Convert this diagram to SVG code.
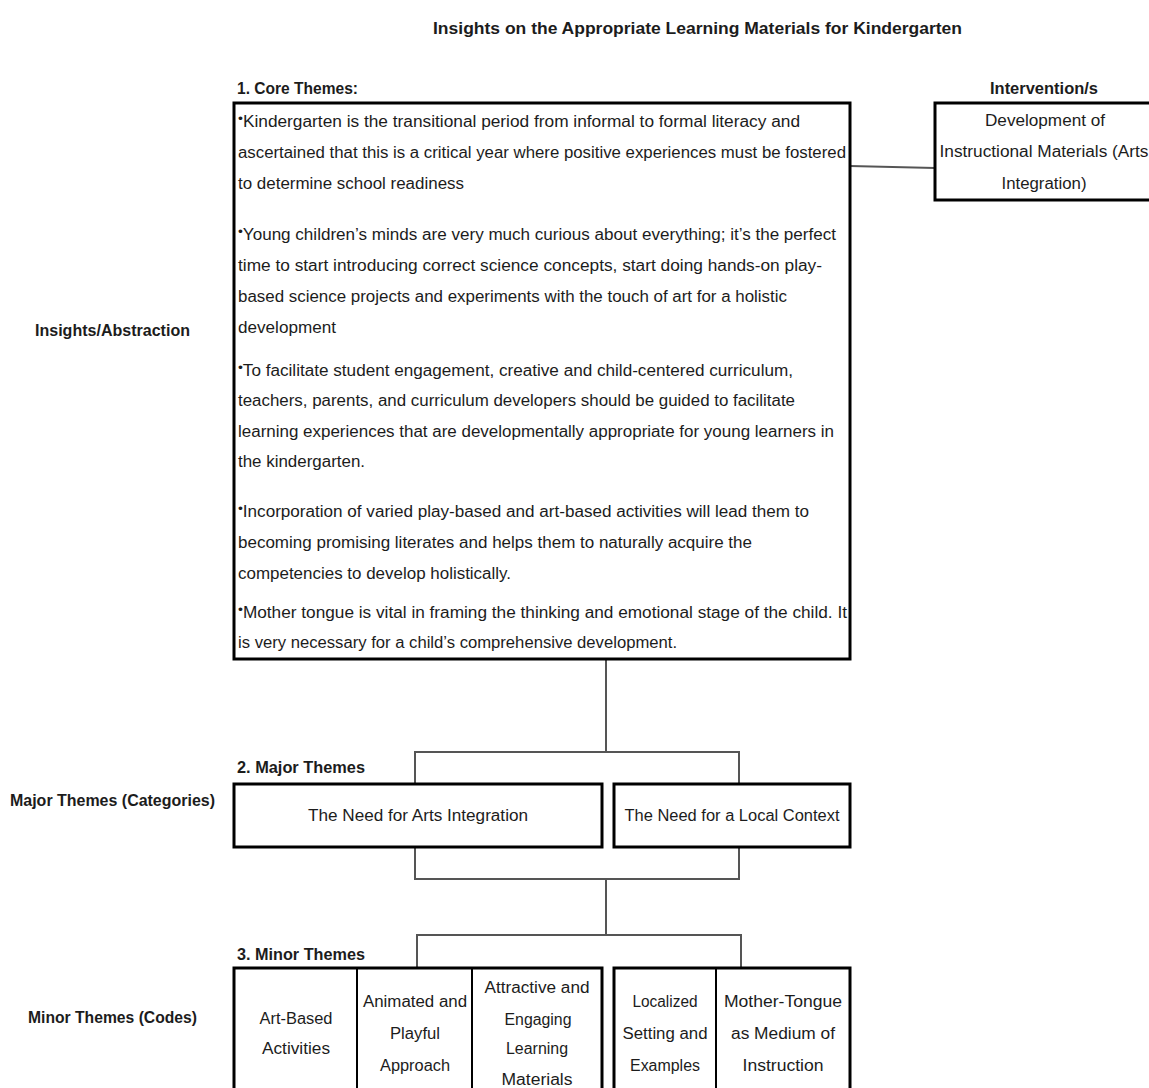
<svg xmlns="http://www.w3.org/2000/svg" width="1149" height="1088" viewBox="0 0 1149 1088">
<style>
text{font-family:"Liberation Sans Narrow","Liberation Sans",Arial,sans-serif;fill:#1c1c1c;font-size:16px}
.b{font-weight:bold}
.t{font-size:17px;font-weight:bold}
.c{text-anchor:middle}
.box{fill:#fff;stroke:#000;stroke-width:3}
.div{stroke:#000;stroke-width:2}
.con{fill:none;stroke:#555;stroke-width:2}
.bul{font-size:13px}
</style>
<rect width="1149" height="1088" fill="#fff"/>
<text class="t" x="433" y="34" textLength="529" lengthAdjust="spacingAndGlyphs">Insights on the Appropriate Learning Materials for Kindergarten</text>
<g id="labels">
<text class="b" x="35" y="336" textLength="155" lengthAdjust="spacingAndGlyphs">Insights/Abstraction</text>
<text class="b" x="10" y="806" textLength="205" lengthAdjust="spacingAndGlyphs">Major Themes (Categories)</text>
<text class="b" x="28" y="1023" textLength="169" lengthAdjust="spacingAndGlyphs">Minor Themes (Codes)</text>
<text class="b" x="237" y="94" textLength="121" lengthAdjust="spacingAndGlyphs">1. Core Themes:</text>
<text class="b c" x="1044" y="94" textLength="108" lengthAdjust="spacingAndGlyphs">Intervention/s</text>
<text class="b" x="237" y="773" textLength="128" lengthAdjust="spacingAndGlyphs">2. Major Themes</text>
<text class="b" x="237" y="960" textLength="128" lengthAdjust="spacingAndGlyphs">3. Minor Themes</text>
</g>
<g id="connectors">
<line class="con" x1="850" y1="166" x2="935" y2="168"/>
<path class="con" d="M606 659 V752 M415 784 V752 H739 V784"/>
<path class="con" d="M415 847 V879 H739 V847 M606 879 V935 M417 968 V935 H741 V968"/>
</g>
<g id="core">
<rect class="box" x="234" y="103" width="616" height="556"/>
<text x="238" y="127" textLength="562" lengthAdjust="spacingAndGlyphs"><tspan class="bul" dy="-4">•</tspan><tspan dy="4">Kindergarten is the transitional period from informal to formal literacy and</tspan></text>
<text x="238" y="158" textLength="608" lengthAdjust="spacingAndGlyphs">ascertained that this is a critical year where positive experiences must be fostered</text>
<text x="238" y="189" textLength="226" lengthAdjust="spacingAndGlyphs">to determine school readiness</text>
<text x="238" y="240" textLength="598" lengthAdjust="spacingAndGlyphs"><tspan class="bul" dy="-4">•</tspan><tspan dy="4">Young children’s minds are very much curious about everything; it’s the perfect</tspan></text>
<text x="238" y="271" textLength="584" lengthAdjust="spacingAndGlyphs">time to start introducing correct science concepts, start doing hands-on play-</text>
<text x="238" y="302" textLength="549" lengthAdjust="spacingAndGlyphs">based science projects and experiments with the touch of art for a holistic</text>
<text x="238" y="333" textLength="98" lengthAdjust="spacingAndGlyphs">development</text>
<text x="238" y="376" textLength="555" lengthAdjust="spacingAndGlyphs"><tspan class="bul" dy="-4">•</tspan><tspan dy="4">To facilitate student engagement, creative and child-centered curriculum,</tspan></text>
<text x="238" y="406" textLength="557" lengthAdjust="spacingAndGlyphs">teachers, parents, and curriculum developers should be guided to facilitate</text>
<text x="238" y="437" textLength="596" lengthAdjust="spacingAndGlyphs">learning experiences that are developmentally appropriate for young learners in</text>
<text x="238" y="467" textLength="127" lengthAdjust="spacingAndGlyphs">the kindergarten.</text>
<text x="238" y="517" textLength="571" lengthAdjust="spacingAndGlyphs"><tspan class="bul" dy="-4">•</tspan><tspan dy="4">Incorporation of varied play-based and art-based activities will lead them to</tspan></text>
<text x="238" y="548" textLength="514" lengthAdjust="spacingAndGlyphs">becoming promising literates and helps them to naturally acquire the</text>
<text x="238" y="579" textLength="273" lengthAdjust="spacingAndGlyphs">competencies to develop holistically.</text>
<text x="238" y="618" textLength="609" lengthAdjust="spacingAndGlyphs"><tspan class="bul" dy="-4">•</tspan><tspan dy="4">Mother tongue is vital in framing the thinking and emotional stage of the child. It</tspan></text>
<text x="238" y="648" textLength="439" lengthAdjust="spacingAndGlyphs">is very necessary for a child’s comprehensive development.</text>
</g>
<g id="intervention">
<rect class="box" x="935" y="103" width="230" height="97"/>
<text class="c" x="1045" y="126" textLength="120" lengthAdjust="spacingAndGlyphs">Development of</text>
<text class="c" x="1044" y="157" textLength="209" lengthAdjust="spacingAndGlyphs">Instructional Materials (Arts</text>
<text class="c" x="1044" y="189" textLength="85" lengthAdjust="spacingAndGlyphs">Integration)</text>
</g>
<g id="major-arts">
<rect class="box" x="234" y="784" width="368" height="63"/>
<text class="c" x="418" y="821" textLength="220" lengthAdjust="spacingAndGlyphs">The Need for Arts Integration</text>
</g>
<g id="major-local">
<rect class="box" x="614" y="784" width="236" height="63"/>
<text class="c" x="732" y="821" textLength="215" lengthAdjust="spacingAndGlyphs">The Need for a Local Context</text>
</g>
<g id="minor-arts">
<rect class="box" x="234" y="968" width="368" height="140"/>
<line class="div" x1="357" y1="968" x2="357" y2="1090"/>
<line class="div" x1="472" y1="968" x2="472" y2="1090"/>
</g>
<g id="minor-art-based">
<text class="c" x="296" y="1024" textLength="73" lengthAdjust="spacingAndGlyphs">Art-Based</text>
<text class="c" x="296" y="1054" textLength="68" lengthAdjust="spacingAndGlyphs">Activities</text>
</g>
<g id="minor-animated">
<text class="c" x="415" y="1007" textLength="104" lengthAdjust="spacingAndGlyphs">Animated and</text>
<text class="c" x="415" y="1039" textLength="50" lengthAdjust="spacingAndGlyphs">Playful</text>
<text class="c" x="415" y="1071" textLength="70" lengthAdjust="spacingAndGlyphs">Approach</text>
</g>
<g id="minor-attractive">
<text class="c" x="537" y="993" textLength="105" lengthAdjust="spacingAndGlyphs">Attractive and</text>
<text class="c" x="538" y="1025" textLength="67" lengthAdjust="spacingAndGlyphs">Engaging</text>
<text class="c" x="537" y="1054" textLength="62" lengthAdjust="spacingAndGlyphs">Learning</text>
<text class="c" x="537" y="1085" textLength="71" lengthAdjust="spacingAndGlyphs">Materials</text>
</g>
<g id="minor-local">
<rect class="box" x="614" y="968" width="236" height="140"/>
<line class="div" x1="716" y1="968" x2="716" y2="1090"/>
</g>
<g id="minor-localized">
<text class="c" x="665" y="1007" textLength="65" lengthAdjust="spacingAndGlyphs">Localized</text>
<text class="c" x="665" y="1039" textLength="85" lengthAdjust="spacingAndGlyphs">Setting and</text>
<text class="c" x="665" y="1071" textLength="70" lengthAdjust="spacingAndGlyphs">Examples</text>
</g>
<g id="minor-mother-tongue">
<text class="c" x="783" y="1007" textLength="118" lengthAdjust="spacingAndGlyphs">Mother-Tongue</text>
<text class="c" x="783" y="1039" textLength="104" lengthAdjust="spacingAndGlyphs">as Medium of</text>
<text class="c" x="783" y="1071" textLength="81" lengthAdjust="spacingAndGlyphs">Instruction</text>
</g>
</svg>
